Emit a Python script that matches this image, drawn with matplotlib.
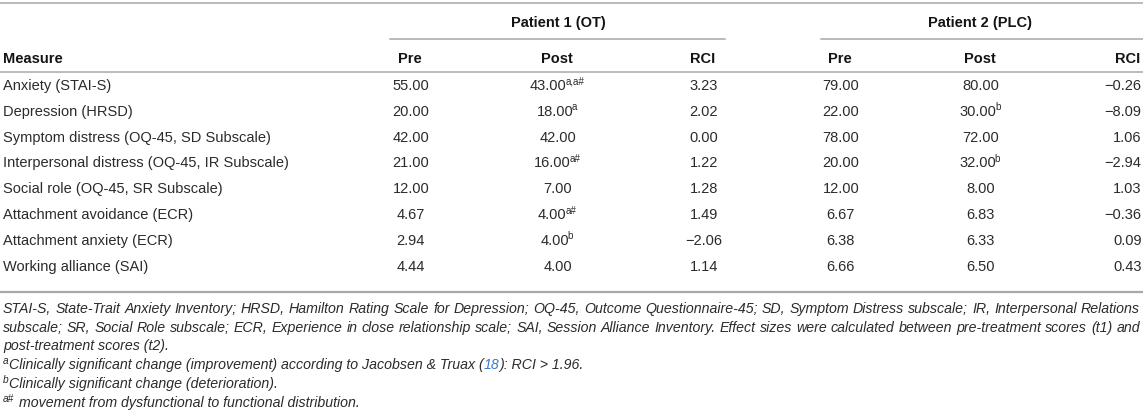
import matplotlib
matplotlib.use("Agg")
import matplotlib.pyplot as plt

plt.rcParams['font.family'] = ['Liberation Sans', 'DejaVu Sans']

# table data
measures = ["Anxiety (STAI-S)", "Depression (HRSD)",
            "Symptom distress (OQ-45, SD Subscale)",
            "Interpersonal distress (OQ-45, IR Subscale)",
            "Social role (OQ-45, SR Subscale)",
            "Attachment avoidance (ECR)", "Attachment anxiety (ECR)",
            "Working alliance (SAI)"]
p1_pre = ["55.00", "20.00", "42.00", "21.00", "12.00", "4.67", "2.94", "4.44"]
p1_post = ["43.00", "18.00", "42.00", "16.00", "7.00", "4.00", "4.00", "4.00"]
p1_post_sup = ["a,a#", "a", "", "a#", "", "a#", "b", ""]
p1_rci = ["3.23", "2.02", "0.00", "1.22", "1.28", "1.49", "\u22122.06", "1.14"]
p2_pre = ["79.00", "22.00", "78.00", "20.00", "12.00", "6.67", "6.38", "6.66"]
p2_post = ["80.00", "30.00", "72.00", "32.00", "8.00", "6.83", "6.33", "6.50"]
p2_post_sup = ["", "b", "", "b", "", "", "", ""]
p2_rci = ["\u22120.26", "\u22128.09", "1.06", "\u22122.94", "1.03", "\u22120.36", "0.09", "0.43"]

groups = ["Patient 1 (OT)", "Patient 2 (PLC)"]
subheads = ["Pre", "Post", "RCI"]

note_line1 = ("STAI-S, State-Trait Anxiety Inventory; HRSD, Hamilton Rating Scale for Depression; "
              "OQ-45, Outcome Questionnaire-45; SD, Symptom Distress subscale; IR, Interpersonal Relations")
note_line2 = ("subscale; SR, Social Role subscale; ECR, Experience in close relationship scale; SAI, "
              "Session Alliance Inventory. Effect sizes were calculated between pre-treatment scores (t1) and")
note_line3 = "post-treatment scores (t2)."

W, H = 1143, 420
fig = plt.figure(figsize=(W / 100, H / 100), dpi=100)
ax = fig.add_axes([0, 0, 1, 1])
ax.set_xlim(0, W)
ax.set_ylim(H, 0)
ax.axis('off')
renderer = fig.canvas.get_renderer()

txt = '#2b2b2b'
hdr = '#141414'
rule = '#a8a8a8'
fs = 10.5

def width_of(s, **kw):
    t = ax.text(0, 0, s, **kw)
    w = t.get_window_extent(renderer).width
    t.remove()
    return w

# value with optional superscript, centred on x as one block
def cell(x, y, val, s, ha):
    w1 = width_of(val, fontsize=fs) - 1.5
    w2 = width_of(s, fontsize=fs * 0.68) if s else 0
    total = w1 + w2
    if ha == 'center':
        x0 = x - total / 2
    elif ha == 'right':
        x0 = x - total
    else:
        x0 = x
    ax.text(x0, y, val, ha='left', va='center', fontsize=fs, color=txt)
    if s:
        ax.text(x0 + w1, y - 4.5, s, ha='left', va='center',
                fontsize=fs * 0.68, color=txt)

# column positions
col_x = [410, 557, 703, 840, 980, 1140]
col_ha = ['center', 'center', 'center', 'center', 'center', 'right']

# rules
ax.plot([0, W], [3, 3], color=rule, lw=1.1)
ax.plot([390, 725], [39, 39], color=rule, lw=1.1)
ax.plot([821, W], [39, 39], color=rule, lw=1.1)
ax.plot([0, W], [72, 72], color=rule, lw=1.1)
ax.plot([0, W], [292, 292], color=rule, lw=1.6)

# headers
ax.text(558, 23, groups[0], ha='center', va='center', fontsize=fs, fontweight='bold', color=hdr)
ax.text(980, 23, groups[1], ha='center', va='center', fontsize=fs, fontweight='bold', color=hdr)
ax.text(3, 59, "Measure", ha='left', va='center', fontsize=fs, fontweight='bold', color=hdr)
for k in range(6):
    ax.text(col_x[k], 59, subheads[k % 3], ha=col_ha[k], va='center',
            fontsize=fs, fontweight='bold', color=hdr)

# body rows
for i, m in enumerate(measures):
    y = 86 + 25.8 * i
    ax.text(3, y, m, ha='left', va='center', fontsize=fs, color=txt)
    cells = [(p1_pre[i], ""), (p1_post[i], p1_post_sup[i]), (p1_rci[i], ""),
             (p2_pre[i], ""), (p2_post[i], p2_post_sup[i]), (p2_rci[i], "")]
    for k, (v, s) in enumerate(cells):
        cell(col_x[k], y, v, s, col_ha[k])

# footnotes: italic, first two lines justified to full width
nfs = 9.0
nfs = nfs * 1137 / width_of(note_line1, fontsize=nfs, style='italic')

def justify(line, y, x0=3, x1=1140):
    words = line.split(' ')
    ws = [width_of(w, fontsize=nfs, style='italic') for w in words]
    gap = (x1 - x0 - sum(ws)) / (len(words) - 1)
    x = x0
    for w, wd in zip(words, ws):
        ax.text(x, y, w, ha='left', va='center', fontsize=nfs, style='italic', color=txt)
        x += wd + gap

justify(note_line1, 309)
justify(note_line2, 328)
ax.text(3, 346, note_line3, ha='left', va='center', fontsize=nfs, style='italic', color=txt)

def runs(x, y, parts):
    for s, kw in parts:
        base = dict(fontsize=nfs, style='italic', color=txt)
        dy = 0
        if kw.get('sup'):
            base['fontsize'] = nfs * 0.72
            dy = -4
        if 'color' in kw:
            base['color'] = kw['color']
        ax.text(x, y + dy, s, ha='left', va='center', **base)
        x += width_of(s, **base) + kw.get('gap', 0.5)

runs(3, 365, [("a", {'sup': True}),
              ("Clinically significant change (improvement) according to Jacobsen & Truax (", {'gap': 0}),
              ("18", {'color': '#3a7bc8', 'gap': 0}),
              ("): RCI > 1.96.", {})])
runs(3, 384, [("b", {'sup': True}),
              ("Clinically significant change (deterioration).", {})])
runs(3, 403, [("a#", {'sup': True, 'gap': 5}),
              ("movement from dysfunctional to functional distribution.", {})])

fig.savefig("out.png", dpi=100)
